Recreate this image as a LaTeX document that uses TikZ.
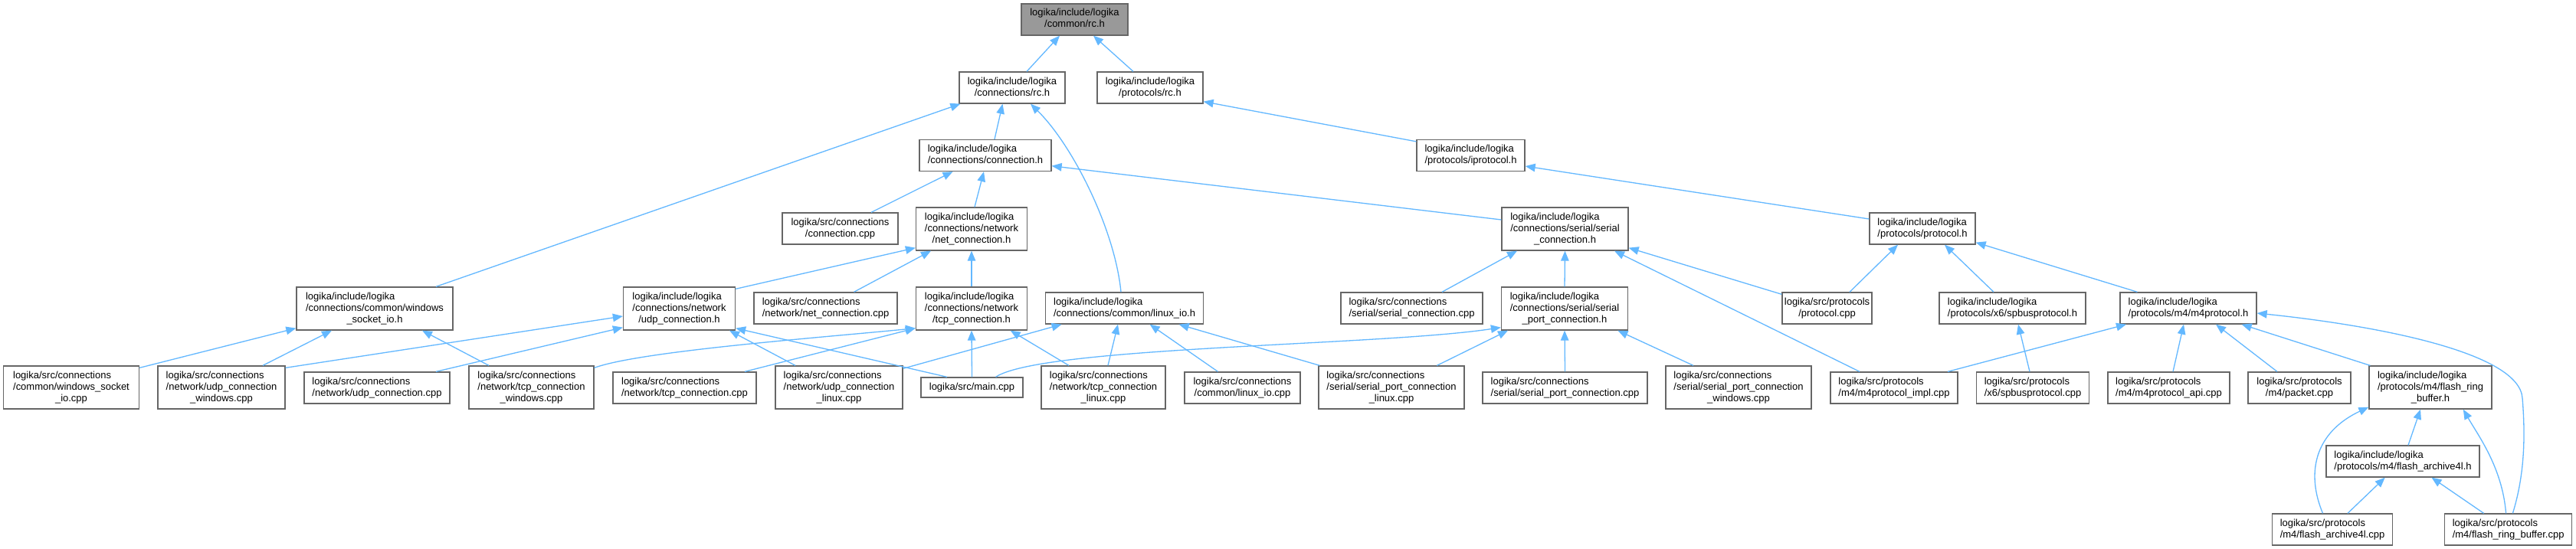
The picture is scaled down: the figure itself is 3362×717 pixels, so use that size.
\documentclass[tikz,border=0pt]{standalone}
\usepackage{fontspec}
\setmainfont{Liberation Sans}
\usetikzlibrary{arrows.meta}
\definecolor{edgec}{HTML}{63B8FF}
\definecolor{boxc}{HTML}{666666}
\definecolor{rootfill}{HTML}{999999}
\newcommand\ltwo[2]{\begin{tabular}{@{}l@{}}#1\\\multicolumn{1}{@{}c@{}}{#2}\end{tabular}}
\newcommand\lthree[3]{\begin{tabular}{@{}l@{}}#1\\#2\\\multicolumn{1}{@{}c@{}}{#3}\end{tabular}}
\begin{document}
\begin{tikzpicture}[x=1pt,y=-1pt,
  fbox/.style={draw=boxc, line width=1.3pt, fill=white, inner sep=1pt,
    font=\fontsize{13}{15}\selectfont, minimum height=41pt},
  rootbox/.style={fbox, fill=rootfill},
  tall/.style={minimum height=56pt},
  edge/.style={draw=edgec, line width=1.3pt, -{Triangle[length=13pt,width=10.5pt]}}
]
\useasboundingbox[fill=white] (0,0) rectangle (3362,717);
% row 0-2
\node[rootbox, minimum width=139pt] (root) at (1402.5,25.5) {\ltwo{logika/include/logika}{/common/rc.h}};
\node[fbox, minimum width=138pt] (conn_rc) at (1321,114.5) {\ltwo{logika/include/logika}{/connections/rc.h}};
\node[fbox, minimum width=138pt] (proto_rc) at (1501,114.5) {\ltwo{logika/include/logika}{/protocols/rc.h}};
\node[fbox, minimum width=172pt] (connection_h) at (1286,203) {\ltwo{logika/include/logika}{/connections/connection.h}};
\node[fbox, minimum width=141pt] (iprotocol_h) at (1919.5,203) {\ltwo{logika/include/logika}{/protocols/iprotocol.h}};
% row 3
\node[fbox, minimum width=151pt] (connection_cpp) at (1096.5,298.5) {\ltwo{logika/src/connections}{/connection.cpp}};
\node[fbox, tall, minimum width=145pt] (net_connection_h) at (1268,299) {\lthree{logika/include/logika}{/connections/network}{/net\_connection.h}};
\node[fbox, tall, minimum width=165pt] (serial_connection_h) at (2042.5,299) {\lthree{logika/include/logika}{/connections/serial/serial}{\_connection.h}};
\node[fbox, minimum width=138pt] (protocol_h) at (2509,298.5) {\ltwo{logika/include/logika}{/protocols/protocol.h}};
% row 4
\node[fbox, tall, minimum width=204pt] (ws_io_h) at (489,403) {\lthree{logika/include/logika}{/connections/common/windows}{\_socket\_io.h}};
\node[fbox, tall, minimum width=146pt] (udp_h) at (886.5,403) {\lthree{logika/include/logika}{/connections/network}{/udp\_connection.h}};
\node[fbox, minimum width=187pt] (net_connection_cpp) at (1077.5,402.5) {\ltwo{logika/src/connections}{/network/net\_connection.cpp}};
\node[fbox, tall, minimum width=145pt] (tcp_h) at (1268,403) {\lthree{logika/include/logika}{/connections/network}{/tcp\_connection.h}};
\node[fbox, minimum width=206pt] (linux_io_h) at (1467.6,402.5) {\ltwo{logika/include/logika}{/connections/common/linux\_io.h}};
\node[fbox, minimum width=185pt] (serial_connection_cpp) at (1842.5,402.5) {\ltwo{logika/src/connections}{/serial/serial\_connection.cpp}};
\node[fbox, tall, minimum width=165pt] (serial_port_h) at (2042,403) {\lthree{logika/include/logika}{/connections/serial/serial}{\_port\_connection.h}};
\node[fbox, minimum width=117pt] (protocol_cpp) at (2384.5,402.5) {\ltwo{logika/src/protocols}{/protocol.cpp}};
\node[fbox, minimum width=191pt] (spbus_h) at (2626.5,402.5) {\ltwo{logika/include/logika}{/protocols/x6/spbusprotocol.h}};
\node[fbox, minimum width=178pt] (m4protocol_h) at (2856,402.5) {\ltwo{logika/include/logika}{/protocols/m4/m4protocol.h}};
% row 5
\node[fbox, tall, minimum width=177pt] (ws_io_cpp) at (93,506) {\lthree{logika/src/connections}{/common/windows\_socket}{\_io.cpp}};
\node[fbox, tall, minimum width=166pt] (udp_windows) at (289,506) {\lthree{logika/src/connections}{/network/udp\_connection}{\_windows.cpp}};
\node[fbox, minimum width=190pt] (udp_cpp) at (492,506.5) {\ltwo{logika/src/connections}{/network/udp\_connection.cpp}};
\node[fbox, tall, minimum width=163pt] (tcp_windows) at (693.5,506) {\lthree{logika/src/connections}{/network/tcp\_connection}{\_windows.cpp}};
\node[fbox, minimum width=187pt] (tcp_cpp) at (893.5,506.5) {\ltwo{logika/src/connections}{/network/tcp\_connection.cpp}};
\node[fbox, tall, minimum width=166pt] (udp_linux) at (1095,506) {\lthree{logika/src/connections}{/network/udp\_connection}{\_linux.cpp}};
\node[fbox, minimum height=26pt, minimum width=133pt] (main_cpp) at (1268.5,506) {logika/src/main.cpp};
\node[fbox, tall, minimum width=162pt] (tcp_linux) at (1440,506) {\lthree{logika/src/connections}{/network/tcp\_connection}{\_linux.cpp}};
\node[fbox, minimum width=151pt] (linux_io_cpp) at (1621.5,506.5) {\ltwo{logika/src/connections}{/common/linux\_io.cpp}};
\node[fbox, tall, minimum width=190pt] (sp_linux) at (1816,506) {\lthree{logika/src/connections}{/serial/serial\_port\_connection}{\_linux.cpp}};
\node[fbox, minimum width=215pt] (sp_cpp) at (2042.5,506.5) {\ltwo{logika/src/connections}{/serial/serial\_port\_connection.cpp}};
\node[fbox, tall, minimum width=190pt] (sp_windows) at (2269,506) {\lthree{logika/src/connections}{/serial/serial\_port\_connection}{\_windows.cpp}};
\node[fbox, minimum width=166pt] (m4impl) at (2472,506.5) {\ltwo{logika/src/protocols}{/m4/m4protocol\_impl.cpp}};
\node[fbox, minimum width=147pt] (spbus_cpp) at (2653,506.5) {\ltwo{logika/src/protocols}{/x6/spbusprotocol.cpp}};
\node[fbox, minimum width=159pt] (m4api) at (2830.5,506.5) {\ltwo{logika/src/protocols}{/m4/m4protocol\_api.cpp}};
\node[fbox, minimum width=134pt] (packet) at (3001,506.5) {\ltwo{logika/src/protocols}{/m4/packet.cpp}};
\node[fbox, tall, minimum width=160pt] (frb_h) at (3172,506) {\lthree{logika/include/logika}{/protocols/m4/flash\_ring}{\_buffer.h}};
% rows 6-7
\node[fbox, minimum width=200pt] (fa4l_h) at (3136,602.5) {\ltwo{logika/include/logika}{/protocols/m4/flash\_archive4l.h}};
\node[fbox, minimum width=157pt] (fa4l_cpp) at (3044,691.5) {\ltwo{logika/src/protocols}{/m4/flash\_archive4l.cpp}};
\node[fbox, minimum width=166pt] (frb_cpp) at (3273.6,691.5) {\ltwo{logika/src/protocols}{/m4/flash\_ring\_buffer.cpp}};
% edges
\draw[edge] ([xshift=19pt]conn_rc.north) -- ([xshift=-19.5pt]root.south);
\draw[edge] ([xshift=-22pt]proto_rc.north) -- ([xshift=24.5pt]root.south);
\draw[edge] ([xshift=80pt]ws_io_h.north) -- ([xshift=2pt]conn_rc.south west);
\draw[edge] ([xshift=12pt]connection_h.north) -- ([xshift=-12.5pt]conn_rc.south);
\draw[edge] ([xshift=-4.6pt]linux_io_h.north) .. controls +(-8,-82) and +(55,54) .. ([xshift=24pt]conn_rc.south);
\draw[edge] ([yshift=-3pt]iprotocol_h.north west) -- ([yshift=3pt]proto_rc.south east);
\draw[edge] ([xshift=40.5pt]connection_cpp.north) -- ([xshift=-42.5pt]connection_h.south);
\draw[edge] ([xshift=4pt]net_connection_h.north) -- ([xshift=-2pt]connection_h.south);
\draw[edge] ([yshift=12pt]serial_connection_h.west) -- ([yshift=-13.7pt]connection_h.east);
\draw[edge] ([yshift=12.5pt]protocol_h.west) -- ([yshift=-14pt]iprotocol_h.east);
\draw[edge] ([yshift=-3pt]udp_h.north east) -- ([yshift=4pt]net_connection_h.south west);
\draw[edge] ([xshift=37pt]net_connection_cpp.north) -- ([xshift=-53pt]net_connection_h.south);
\draw[edge] (tcp_h.north) -- (net_connection_h.south);
\draw[edge] ([xshift=39.5pt]serial_connection_cpp.north) -- ([xshift=-62.5pt]serial_connection_h.south);
\draw[edge] (serial_port_h.north) -- (serial_connection_h.south);
\draw[edge] ([yshift=-3pt]protocol_cpp.north west) -- ([yshift=4pt]serial_connection_h.south east);
\draw[edge] ([xshift=-45pt]m4impl.north) -- ([xshift=64.5pt]serial_connection_h.south);
\draw[edge] ([xshift=29.5pt]protocol_cpp.north) -- ([xshift=-32pt]protocol_h.south);
\draw[edge] ([xshift=-24.5pt]spbus_h.north) -- ([xshift=29pt]protocol_h.south);
\draw[edge] ([xshift=-66.5pt]m4protocol_h.north) -- ([yshift=3pt]protocol_h.south east);
\draw[edge] ([yshift=-3pt]ws_io_cpp.north east) -- ([yshift=3pt]ws_io_h.south west);
\draw[edge] ([xshift=54pt]udp_windows.north) -- ([xshift=-56pt]ws_io_h.south);
\draw[edge] ([xshift=-55.5pt]tcp_windows.north) -- ([xshift=62pt]ws_io_h.south);
\draw[edge] ([yshift=-3pt]udp_windows.north east) -- ([yshift=-10pt]udp_h.west);
\draw[edge] ([xshift=77pt]udp_cpp.north) -- ([yshift=4pt]udp_h.south west);
\draw[edge] ([yshift=-3pt]tcp_windows.north east) .. controls +(60,-22) and +(-120,12) .. ([yshift=3pt]tcp_h.south west);
\draw[edge] ([xshift=78.5pt]tcp_cpp.north) -- ([yshift=3pt]tcp_h.south west);
\draw[edge] ([xshift=-57pt]udp_linux.north) -- ([xshift=65.5pt]udp_h.south);
\draw[edge] ([yshift=-4pt]udp_linux.north east) -- ([xshift=-82pt]linux_io_h.south);
\draw[edge] ([xshift=-32.5pt]main_cpp.north) -- ([yshift=3pt]udp_h.south east);
\draw[edge] (main_cpp.north) -- (tcp_h.south);
\draw[edge] ([xshift=31pt]main_cpp.north) .. controls +(60.5,-40) and +(-158,24) .. ([yshift=4pt]serial_port_h.south west);
\draw[edge] ([xshift=-45pt]tcp_linux.north) -- ([xshift=50.7pt]tcp_h.south);
\draw[edge] ([xshift=6pt]tcp_linux.north) -- ([xshift=-8.6pt]linux_io_h.south);
\draw[edge] ([xshift=-32pt]linux_io_cpp.north) -- ([xshift=33pt]linux_io_h.south);
\draw[edge] ([xshift=2pt]sp_linux.north west) -- ([xshift=71pt]linux_io_h.south);
\draw[edge] ([xshift=59.4pt]sp_linux.north) -- ([xshift=-74pt]serial_port_h.south);
\draw[edge] (sp_cpp.north) -- (serial_port_h.south);
\draw[edge] ([xshift=-59pt]sp_windows.north) -- ([xshift=69.4pt]serial_port_h.south);
\draw[edge] ([xshift=-4pt]spbus_cpp.north) -- ([xshift=7.5pt]spbus_h.south);
\draw[edge] ([xshift=70pt]m4impl.north) -- ([xshift=-81pt]m4protocol_h.south);
\draw[edge] ([xshift=5.5pt]m4api.north) -- ([xshift=-6pt]m4protocol_h.south);
\draw[edge] ([xshift=-29pt]packet.north) -- ([xshift=36pt]m4protocol_h.south);
\draw[edge] ([xshift=2pt]frb_h.north west) -- ([xshift=69.6pt]m4protocol_h.south);
\draw[edge] ([xshift=5.8pt]frb_cpp.north) .. controls (3295,620) and (3296,570) .. (3292,520) .. controls (3288,460) and (3100,425) .. ([yshift=-6.5pt]m4protocol_h.east);
\draw[edge] ([xshift=7pt]fa4l_h.north) -- ([xshift=-13pt]frb_h.south);
\draw[edge] ([xshift=-12.5pt]fa4l_cpp.north) .. controls +(-21.5,-51) and +(-72,34) .. ([yshift=3pt]frb_h.south west);
\draw[edge] ([xshift=20pt]fa4l_cpp.north) -- ([xshift=-23.3pt]fa4l_h.south);
\draw[edge] ([xshift=-32pt]frb_cpp.north) -- ([xshift=37.5pt]fa4l_h.south);
\draw[edge] ([xshift=-3pt]frb_cpp.north) .. controls +(-5,-60) and +(20,35) .. ([xshift=42.8pt]frb_h.south);
\end{tikzpicture}
\end{document}
